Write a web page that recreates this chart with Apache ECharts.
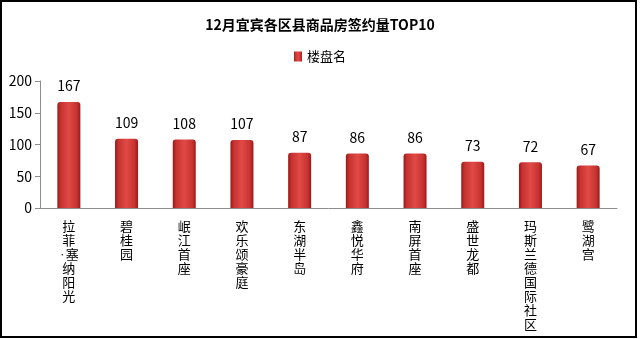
<!DOCTYPE html>
<html lang="zh">
  <head>
    <meta charset="UTF-8" />
    <title>12月宜宾各区县商品房签约量TOP10</title>
    <script src="https://cdn.jsdelivr.net/npm/echarts@6/dist/echarts.min.js"></script>
    <style>
      html, body { margin: 0; padding: 0; background: #fff; }
      #app { width: 640px; height: 339px; }
    </style>
  </head>
  <body>
    <div id="app"></div>
    <script>
      const categories = ["拉菲·塞纳阳光", "碧桂园", "岷江首座", "欢乐颂豪庭", "东湖半岛",
        "鑫悦华府", "南屏首座", "盛世龙都", "玛斯兰德国际社区", "鹭湖宫"];
      const values = [167, 109, 108, 107, 87, 86, 86, 73, 72, 67];
      const seriesName = "楼盘名";

      const font = "'Noto Sans CJK SC', 'Noto Sans', sans-serif";

      // vertical labels: one char per line, the dot squeezed in front of the next char
      function verticalText(s) {
        const out = [];
        let dot = false;
        for (const c of s) {
          if (c === "·") { dot = true; continue; }
          out.push(dot ? "{d|·}" + c : c);
          dot = false;
        }
        return out.join("\n");
      }

      const barColor = {
        type: "linear", x: 0, y: 0, x2: 1, y2: 0,
        colorStops: [
          { offset: 0, color: "#9a1a18" },
          { offset: 0.15, color: "#c63330" },
          { offset: 0.5, color: "#e04946" },
          { offset: 0.85, color: "#c63330" },
          { offset: 1, color: "#9a1a18" },
        ],
      };

      const chart = echarts.init(document.getElementById("app"));
      chart.setOption({
        animation: false,
        textStyle: { fontFamily: font },
        title: {
          text: "12月宜宾各区县商品房签约量TOP10",
          left: "center",
          top: 13,
          textStyle: { fontSize: 14, fontWeight: "bold", color: "#000", fontFamily: font },
        },
        legend: {
          top: 45,
          left: "center",
          itemWidth: 8,
          itemHeight: 10,
          itemGap: 6,
          textStyle: { fontSize: 13, color: "#000", fontFamily: font },
          data: [{ name: seriesName, icon: "rect" }],
        },
        graphic: [{
          type: "rect",
          shape: { x: 1, y: 1, width: 635, height: 336 },
          style: { fill: "none", stroke: "#000", lineWidth: 2 },
          silent: true,
        }],
        grid: { left: 40, right: 23, top: 81, bottom: 131 },
        xAxis: {
          type: "category",
          data: categories,
          axisLine: { lineStyle: { color: "#8c8c8c" } },
          axisTick: { length: 5, lineStyle: { color: "#8c8c8c" } },
          axisLabel: {
            interval: 0,
            margin: 11,
            color: "#000",
            fontSize: 13,
            lineHeight: 14,
            fontFamily: font,
            formatter: (v) => verticalText(v),
            rich: { d: { fontSize: 7, lineHeight: 14, color: "#000" } },
          },
        },
        yAxis: {
          type: "value",
          min: 0,
          max: 200,
          interval: 50,
          axisLine: { show: true, lineStyle: { color: "#8c8c8c" } },
          axisTick: { show: true, length: 5, lineStyle: { color: "#8c8c8c" } },
          splitLine: { show: false },
          axisLabel: { color: "#000", fontSize: 14, margin: 8, fontFamily: font },
        },
        series: [{
          name: seriesName,
          type: "bar",
          data: values,
          barWidth: 23,
          itemStyle: { color: barColor, borderRadius: [3, 3, 0, 0] },
          label: {
            show: true,
            position: "top",
            distance: 9,
            color: "#000",
            fontSize: 14,
            fontFamily: font,
          },
        }],
      });
    </script>
  </body>
</html>
